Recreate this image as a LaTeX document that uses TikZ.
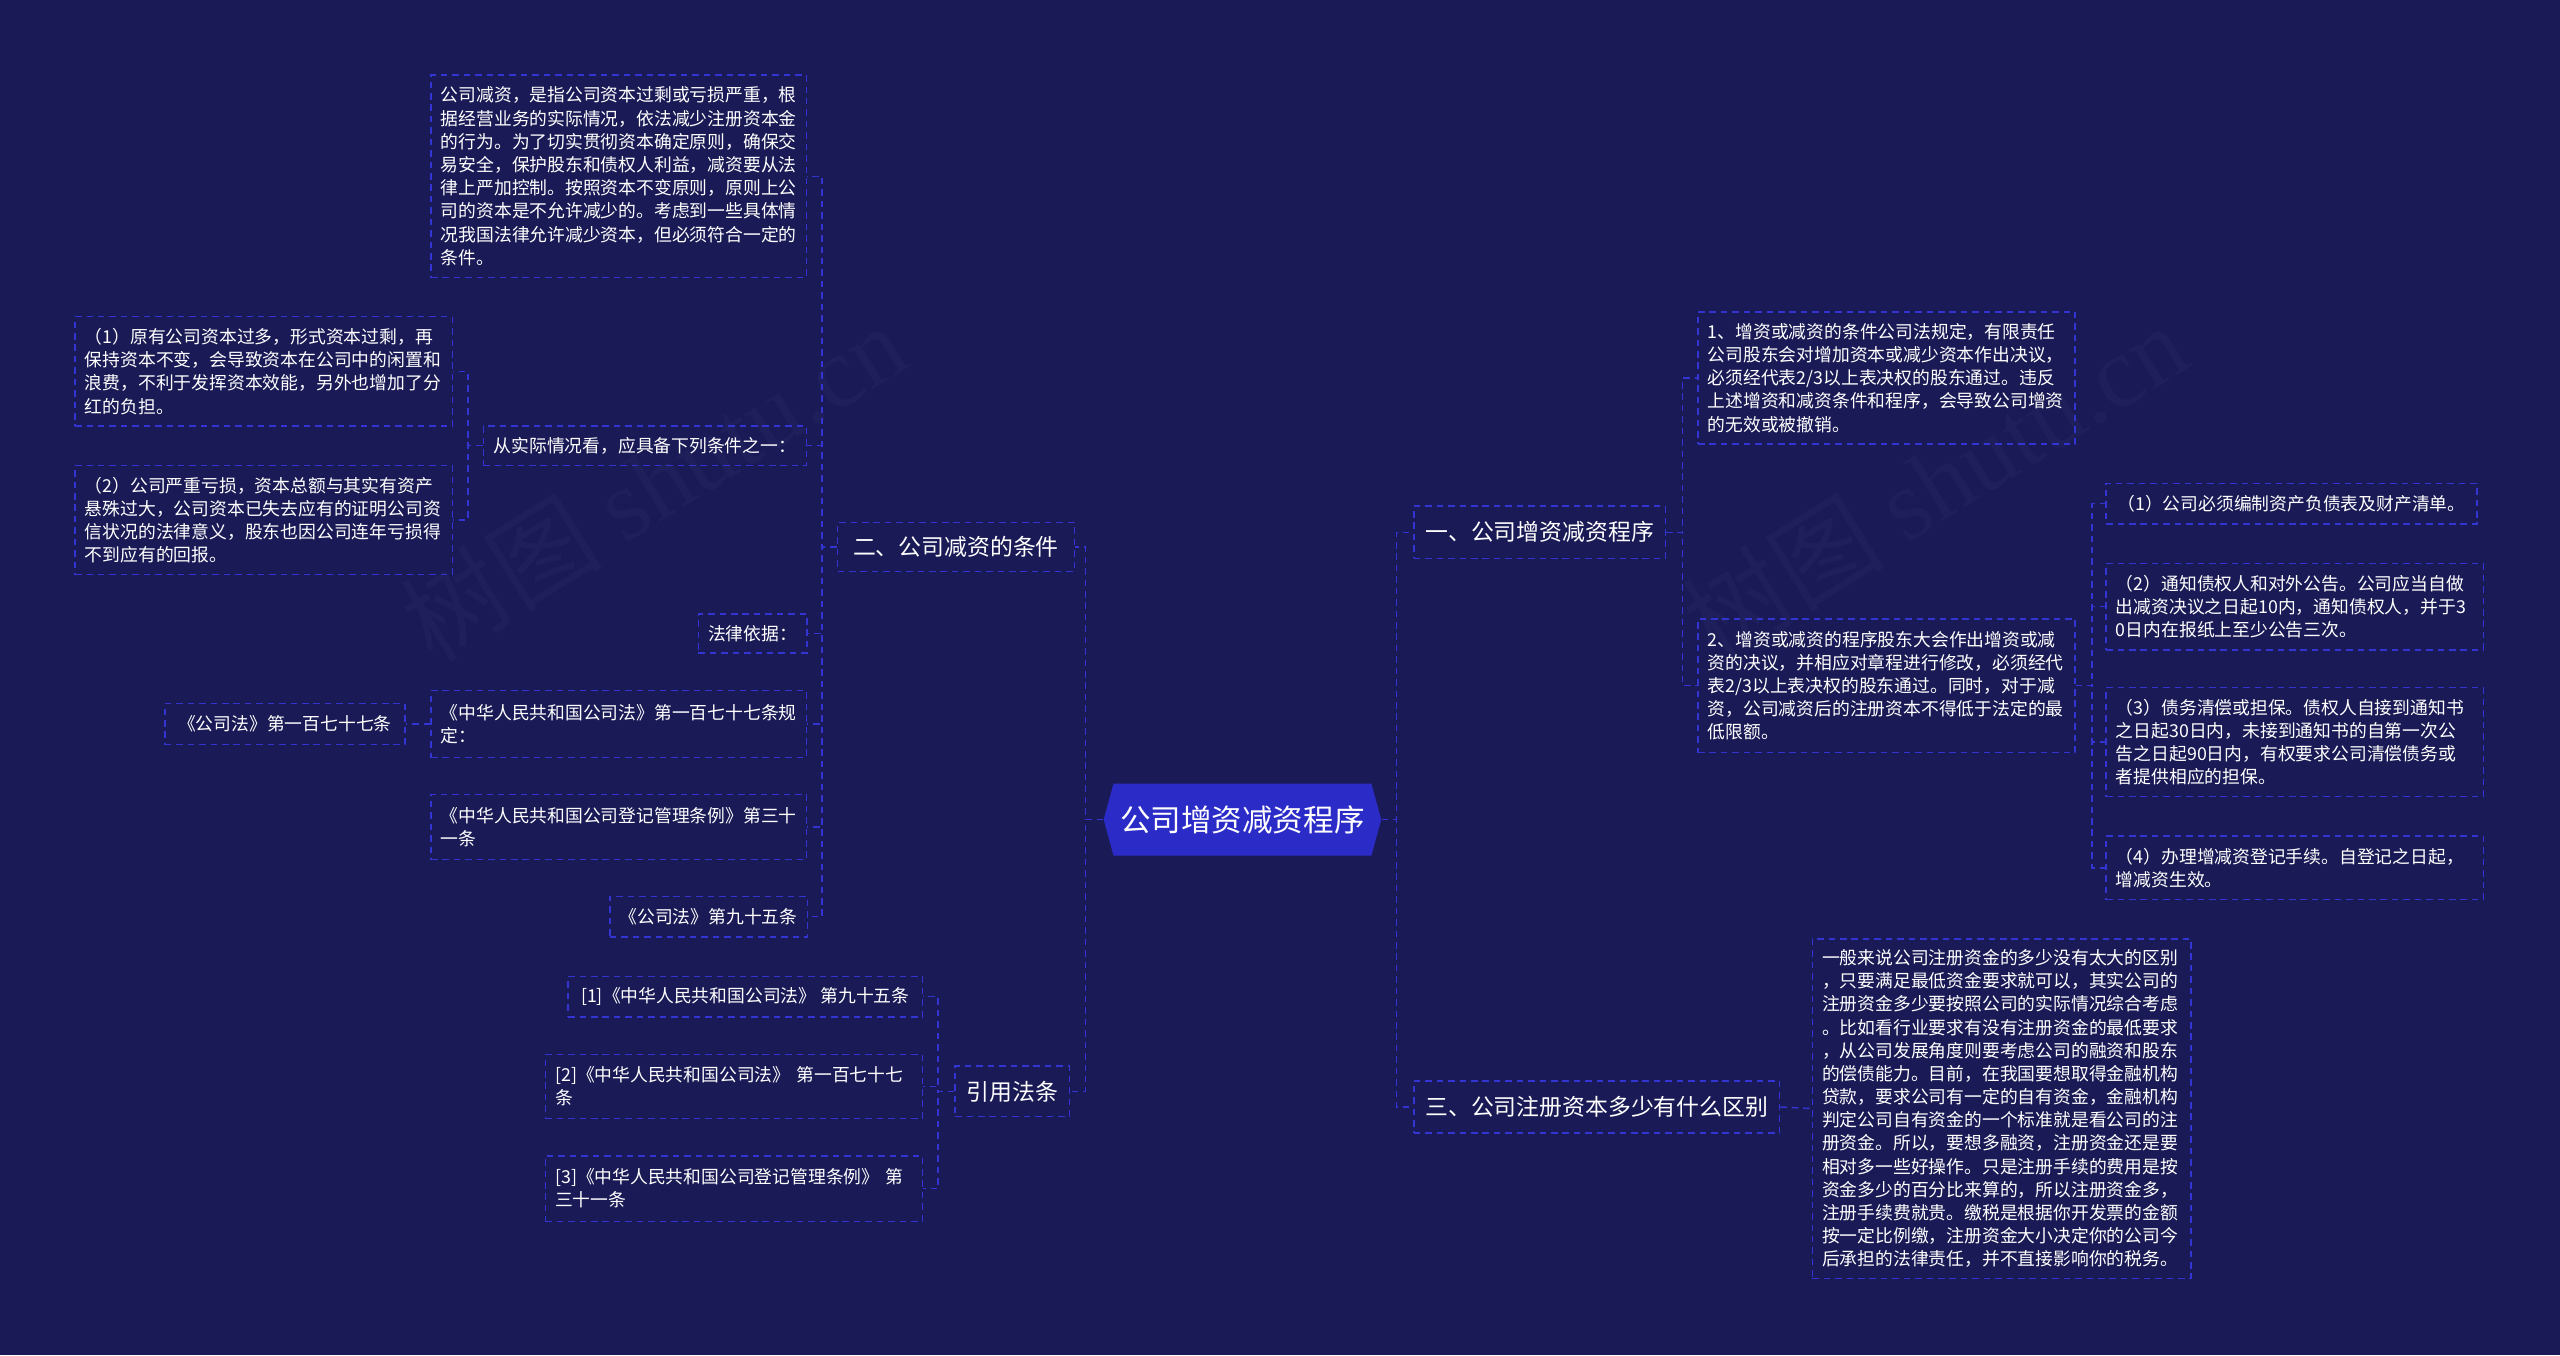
\documentclass[tikz,border=0pt]{standalone}
\usepackage{fontspec}
\setmainfont{Noto Sans CJK SC}
\newfontfamily\wmfont{Liberation Serif}
\definecolor{bg}{RGB}{26,26,86}
\definecolor{linec}{RGB}{52,52,210}
\definecolor{rootc}{RGB}{43,43,200}
\definecolor{wm}{RGB}{31,31,92}
\tikzset{
  dl/.style={draw=linec, line width=0.9pt, dash pattern=on 4pt off 3pt},
  conn/.style={draw=linec, line width=0.9pt, dash pattern=on 4pt off 3pt},
  leaf/.style={dl, text=white, font=\fontsize{10.9pt}{14.2pt}\selectfont, inner xsep=6pt, inner ysep=0pt, align=left},
  single/.style={dl, text=white, font=\fontsize{10.9pt}{14.2pt}\selectfont, inner xsep=6pt, inner ysep=0pt, align=center},
  branch/.style={dl, text=white, font=\fontsize{14pt}{17pt}\selectfont, inner xsep=6pt, inner ysep=0pt},
}
\begin{document}
\begin{tikzpicture}[x=1pt,y=-1pt]
\fill[bg] (0,0) rectangle (1568,830);
\useasboundingbox (0,0) rectangle (1568,830);
% watermarks
\node[rotate=32, text=wm, font=\fontsize{62pt}{62pt}\selectfont] (wm1) at (400,295) {树图 {\wmfont shutu.cn}};
\node[rotate=32, text=wm, font=\fontsize{62pt}{62pt}\selectfont] (wm2) at (1185,295) {树图 {\wmfont shutu.cn}};

% root
\fill[rootc] (676,502) -- (682,480) -- (840,480) -- (846,502) -- (840,524) -- (682,524) -- cycle;
\node[text=white, font=\fontsize{18.7pt}{22pt}\selectfont, minimum width=170pt, minimum height=44pt, inner sep=0pt] (root) at (761,502) {公司增资减资程序};

% left branch nodes
\node[branch, minimum width=145pt, minimum height=30pt] (n2) at (585.5,335) {二、公司减资的条件};
\node[branch, minimum width=70pt, minimum height=31pt] (yy) at (620,668.5) {引用法条};

\node[leaf, text width=218pt, minimum height=124pt] (top) at (379,108) {公司减资，是指公司资本过剩或亏损严重，根\\据经营业务的实际情况，依法减少注册资本金\\的行为。为了切实贯彻资本确定原则，确保交\\易安全，保护股东和债权人利益，减资要从法\\律上严加控制。按照资本不变原则，原则上公\\司的资本是不允许减少的。考虑到一些具体情\\况我国法律允许减少资本，但必须符合一定的\\条件。};
\node[single, minimum width=198pt, minimum height=24pt] (shiji) at (395,273) {从实际情况看，应具备下列条件之一：};
\node[leaf, text width=219pt, minimum height=67pt] (p1) at (161.5,227.5) {（1）原有公司资本过多，形式资本过剩，再\\保持资本不变，会导致资本在公司中的闲置和\\浪费，不利于发挥资本效能，另外也增加了分\\红的负担。};
\node[leaf, text width=219pt, minimum height=67pt] (p2) at (161.5,318.5) {（2）公司严重亏损，资本总额与其实有资产\\悬殊过大，公司资本已失去应有的证明公司资\\信状况的法律意义，股东也因公司连年亏损得\\不到应有的回报。};
\node[single, minimum width=66pt, minimum height=24pt] (falv) at (461,388) {法律依据：};
\node[leaf, text width=218pt, minimum height=41pt] (gsf177) at (379,443.5) {《中华人民共和国公司法》第一百七十七条规\\定：};
\node[single, minimum width=147pt, minimum height=25pt] (g177) at (174.5,443.5) {《公司法》第一百七十七条};
\node[leaf, text width=218pt, minimum height=40pt] (dengji) at (379,506.5) {《中华人民共和国公司登记管理条例》第三十\\一条};
\node[single, minimum width=120pt, minimum height=25pt] (gsf95) at (434,561.5) {《公司法》第九十五条};

\node[single, minimum width=217pt, minimum height=25pt] (r1) at (456.5,610.5) {[1]《中华人民共和国公司法》 第九十五条};
\node[leaf, text width=219pt, minimum height=39pt] (r2) at (449.5,665.5) {[2]《中华人民共和国公司法》 第一百七十七\\条};
\node[leaf, text width=219pt, minimum height=40pt] (r3) at (449.5,728) {[3]《中华人民共和国公司登记管理条例》 第\\三十一条};

% right branch nodes
\node[branch, minimum width=154pt, minimum height=32pt] (n1) at (943,326) {一、公司增资减资程序};
\node[branch, minimum width=224pt, minimum height=32pt] (n3) at (978,678) {三、公司注册资本多少有什么区别};

\node[leaf, text width=219pt, minimum height=81pt] (a1) at (1155.5,231.5) {1、增资或减资的条件公司法规定，有限责任\\公司股东会对增加资本或减少资本作出决议，\\必须经代表2/3以上表决权的股东通过。违反\\上述增资和减资条件和程序，会导致公司增资\\的无效或被撤销。};
\node[leaf, text width=219pt, minimum height=82pt] (a2) at (1155.5,420) {2、增资或减资的程序股东大会作出增资或减\\资的决议，并相应对章程进行修改，必须经代\\表2/3以上表决权的股东通过。同时，对于减\\资，公司减资后的注册资本不得低于法定的最\\低限额。};

\node[single, minimum width=227pt, minimum height=25pt] (b1) at (1403.5,308.5) {（1）公司必须编制资产负债表及财产清单。};
\node[leaf, text width=219pt, minimum height=53pt] (b2) at (1405.5,371.5) {（2）通知债权人和对外公告。公司应当自做\\出减资决议之日起10内，通知债权人，并于3\\0日内在报纸上至少公告三次。};
\node[leaf, text width=219pt, minimum height=67pt] (b3) at (1405.5,454.5) {（3）债务清偿或担保。债权人自接到通知书\\之日起30日内，未接到通知书的自第一次公\\告之日起90日内，有权要求公司清偿债务或\\者提供相应的担保。};
\node[leaf, text width=219pt, minimum height=39pt] (b4) at (1405.5,531.5) {（4）办理增减资登记手续。自登记之日起，\\增减资生效。};

\node[leaf, text width=220pt, minimum height=208pt] (c1) at (1226,679) {一般来说公司注册资金的多少没有太大的区别\\，只要满足最低资金要求就可以，其实公司的\\注册资金多少要按照公司的实际情况综合考虑\\。比如看行业要求有没有注册资金的最低要求\\，从公司发展角度则要考虑公司的融资和股东\\的偿债能力。目前，在我国要想取得金融机构\\贷款，要求公司有一定的自有资金，金融机构\\判定公司自有资金的一个标准就是看公司的注\\册资金。所以，要想多融资，注册资金还是要\\相对多一些好操作。只是注册手续的费用是按\\资金多少的百分比来算的，所以注册资金多，\\注册手续费就贵。缴税是根据你开发票的金额\\按一定比例缴，注册资金大小决定你的公司今\\后承担的法律责任，并不直接影响你的税务。};

% connectors: root
\draw[conn] (root.west) -- ++(-11,0) |- (n2.east);
\draw[conn] (root.west) -- ++(-11,0) |- (yy.east);
\draw[conn] (root.east) -- ++(9,0) |- (n1.west);
\draw[conn] (root.east) -- ++(9,0) |- (n3.west);
% n2
\foreach \t in {top,shiji,falv,gsf177,dengji,gsf95}
  \draw[conn] (n2.west) -- ++(-9,0) |- (\t.east);
\foreach \t in {p1,p2}
  \draw[conn] (shiji.west) -- ++(-9,0) |- (\t.east);
\draw[conn] (gsf177.west) -- (g177.east);
% yy
\foreach \t in {r1,r2,r3}
  \draw[conn] (yy.west) -- ++(-10,0) |- (\t.east);
% n1
\foreach \t in {a1,a2}
  \draw[conn] (n1.east) -- ++(10,0) |- (\t.west);
\foreach \t in {b1,b2,b3,b4}
  \draw[conn] (a2.east) -- ++(10,0) |- (\t.west);
% n3
\draw[conn] (n3.east) -- (c1.west);
\end{tikzpicture}
\end{document}
